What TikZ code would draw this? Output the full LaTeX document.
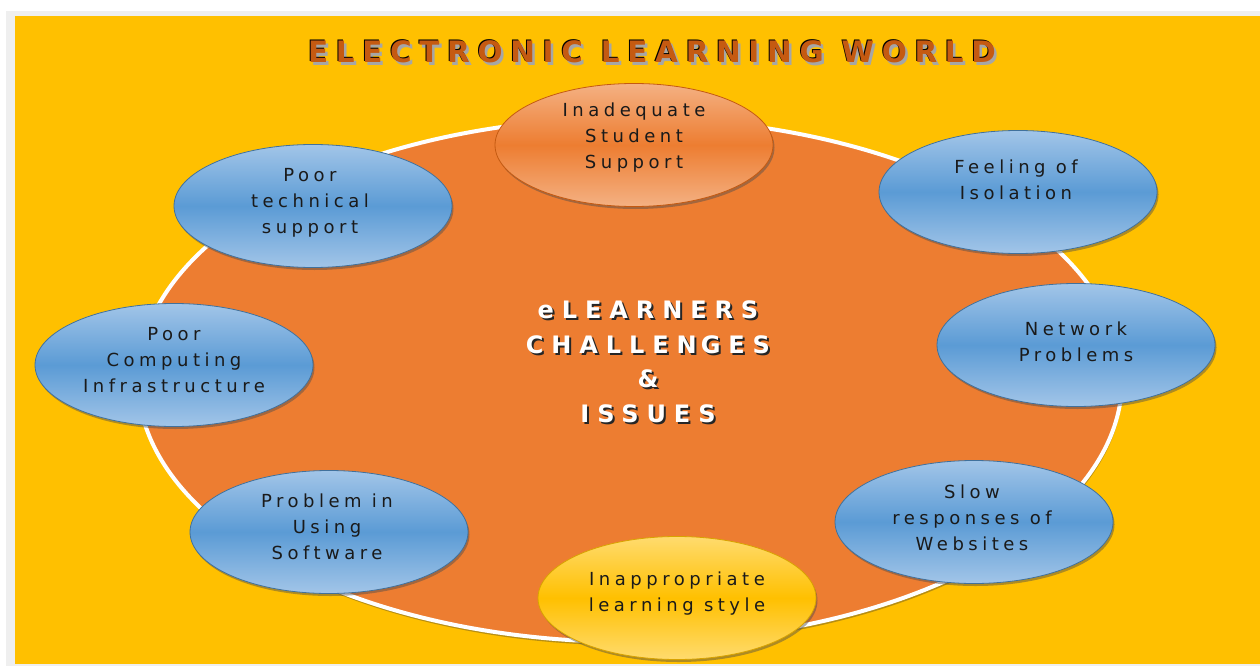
\documentclass[tikz,border=0pt]{standalone}
\usepackage{fontspec}
\setmainfont{DejaVu Sans}
\newfontfamily\lblfont{DejaVu Sans}[LetterSpace=25]
\newfontfamily\hubfont{DejaVu Sans}[LetterSpace=33]
\newfontfamily\ttlfont{DejaVu Sans}[LetterSpace=26]
\usetikzlibrary{shapes.geometric,shadows,calc}
\definecolor{bgyellow}{HTML}{FFC000}
\definecolor{framegray}{HTML}{EFEFEF}
\definecolor{bigorange}{HTML}{ED7D31}
\definecolor{bluemid}{HTML}{5B9BD5}
\definecolor{bluelight}{HTML}{A2C5E8}
\definecolor{blueedge}{HTML}{41719C}
\definecolor{orgmid}{HTML}{ED7D31}
\definecolor{orglight}{HTML}{F4B183}
\definecolor{orgedge}{HTML}{C55A11}
\definecolor{goldmid}{HTML}{FFC000}
\definecolor{goldlight}{HTML}{FFDB6E}
\definecolor{goldedge}{HTML}{D9A300}
\definecolor{titlebrown}{HTML}{C55A11}
\definecolor{lbltext}{HTML}{1A1A1A}
\tikzset{
  bubble/.style={ellipse, minimum width=278pt, minimum height=123pt, inner sep=0pt,
    line width=0.8pt,
    drop shadow={shadow xshift=1.5pt, shadow yshift=-2.5pt, opacity=0.45, fill=black!70}},
  bluebub/.style={bubble, draw=blueedge, top color=bluelight, bottom color=bluelight, middle color=bluemid},
  orangebub/.style={bubble, draw=orgedge, top color=orglight, bottom color=orglight, middle color=orgmid},
  goldbub/.style={bubble, draw=goldedge, top color=goldlight, bottom color=goldlight, middle color=goldmid},
  lbl/.style={font=\lblfont\fontsize{18}{26}\selectfont, align=center, text=lbltext, inner sep=0pt},
  hubtxt/.style={font=\hubfont\bfseries\fontsize{24}{34.5}\selectfont, align=center, inner sep=0pt},
  ttl/.style={font=\ttlfont\bfseries\fontsize{29.5}{35}\selectfont, inner sep=0pt},
  hub/.style={ellipse, minimum width=984pt, minimum height=524pt, inner sep=0pt,
    draw=white, line width=4pt, fill=bigorange,
    drop shadow={shadow xshift=1pt, shadow yshift=-3.5pt, opacity=0.35, fill=black!80}}
}
\begin{document}
\begin{tikzpicture}[x=1pt,y=-1pt]
\useasboundingbox (0,0) rectangle (1260,666);
\fill[white] (0,0) rectangle (1260,666);
\fill[framegray] (6,11) rectangle (1260,666);
\fill[bgyellow] (15,16) rectangle (1260,664);
% title
\node[ttl, text=black!35] (titleshadow) at (654.5,54.5) {ELECTRONIC LEARNING WORLD};
\node[ttl, text=black] (titleedge) at (651,51) {ELECTRONIC LEARNING WORLD};
\node[ttl, text=titlebrown] (title) at (652,52) {ELECTRONIC LEARNING WORLD};
% hub
\node[hub] (hub) at (630,380) {};
\node[hubtxt, text=black!85] (hubshadow) at (650,364) {eLEARNERS\\CHALLEN\kern4pt GES\\\&\\ISSUES};
\node[hubtxt, text=white] (hubtext) at (648,362) {eLEARNERS\\CHALLEN\kern4pt GES\\\&\\ISSUES};
% bubbles
\node[orangebub] (n1) at (634,145) {};
\node[lbl] (t1) at (634,138) {Inadequate\\Student\\Support};
\node[bluebub] (n2) at (1018,192) {};
\node[lbl] (t2) at (1016,180) {Feeling of\\Isolation};
\node[bluebub] (n3) at (1076,345) {};
\node[lbl] (t3) at (1076,342) {Network\\Problems};
\node[bluebub] (n4) at (974,522) {};
\node[lbl] (t4) at (972,518) {Slow\\responses of\\Websites};
\node[goldbub] (n5) at (677,598) {};
\node[lbl] (t5) at (677,594) {Inappropriate\\learning style};
\node[bluebub] (n6) at (329,532) {};
\node[lbl] (t6) at (327,527) {Problem in\\Using\\Software};
\node[bluebub] (n7) at (174,365) {};
\node[lbl] (t7) at (174,360) {Poor\\Computing\\Infrastructure};
\node[bluebub] (n8) at (313,206) {};
\node[lbl] (t8) at (310,203) {Poor\\technical\\support};
\end{tikzpicture}
\end{document}
